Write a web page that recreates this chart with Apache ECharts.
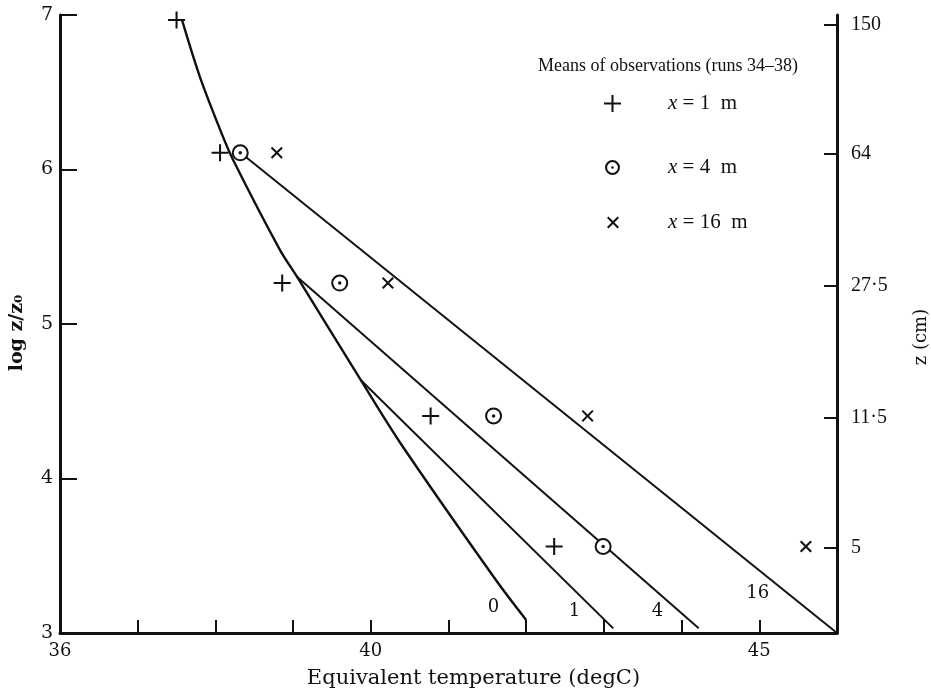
<!DOCTYPE html>
<html>
<head>
<meta charset="utf-8">
<script src="https://cdn.jsdelivr.net/npm/echarts@6/dist/echarts.min.js"></script>
<style>
html,body{margin:0;padding:0;background:#fff;}
#chart{width:931px;height:694px;}
</style>
</head>
<body>
<div id="chart"></div>
<script>
// ---- data ----
const xTickValues = [37, 38, 39, 40, 41, 42, 43, 44, 45];
const xLabelValues = [36, 40, 45];
const yTickValues = [4, 5, 6, 7];
const yLabelValues = [3, 4, 5, 6, 7];
const zLabels = ['150', '64', '27·5', '11·5', '5'];
const zLogPos = [6.935, 6.10, 5.248, 4.39, 3.552];

const obsLogZ = [6.968, 6.108, 5.265, 4.405, 3.56];
const temp1m = [37.50, 38.06, 38.86, 40.77, 42.36];
const temp4m = [null, 38.32, 39.60, 41.58, 42.99];
const temp16m = [null, 38.79, 40.22, 42.79, 45.60];

const curve0X = [37.57, 37.80, 38.08, 38.23, 38.83, 39.05, 39.87, 40.38, 41.61, 42.00];
const curve0Y = [6.968, 6.60, 6.234, 6.06, 5.48, 5.306, 4.638, 4.23, 3.343, 3.084];
const line1X = [39.87, 43.12];
const line1Y = [4.638, 3.03];
const line4X = [39.05, 44.22];
const line4Y = [5.306, 3.03];
const line16X = [38.32, 46.0];
const line16Y = [6.11, 3.0];

const curveNames = ['0', '1', '4', '16'];
const curveLabelX = [41.58, 42.62, 43.69, 44.98];
const curveLabelY = [3.166, 3.138, 3.138, 3.257];

const legendNames = ['x = 1 m', 'x = 4 m', 'x = 16 m'];

// ---- helpers ----
const zip = (xs, ys) => xs.map((x, i) => (x == null ? null : [x, ys[i]])).filter(p => p);

const PLUS = 'path://M0,4.4H10V5.6H0ZM4.4,0H5.6V10H4.4Z';
const CROSS = 'path://M0,1.2L1.2,0L5,3.8L8.8,0L10,1.2L6.2,5L10,8.8L8.8,10L5,6.2L1.2,10L0,8.8L3.8,5Z';
const RING = 'path://M10,0A10,10,0,1,1,10,20A10,10,0,1,1,10,0ZM10,2.8A7.2,7.2,0,1,0,10,17.2A7.2,7.2,0,1,0,10,2.8ZM10,8.3A1.7,1.7,0,1,1,10,11.7A1.7,1.7,0,1,1,10,8.3Z';

const SERIF = '"DejaVu Serif", serif';
const TIMES = '"Liberation Serif", "Times New Roman", serif';
const INK = '#111';

const lineSeries = (name, data, width, smooth) => ({
  name, type: 'line', data, symbol: 'none', smooth: smooth || false,
  lineStyle: { color: INK, width }, z: 2, silent: true, animation: false
});

const legendText = {
  fontFamily: TIMES, fontSize: 21, color: INK,
  rich: {
    i: { fontFamily: TIMES, fontStyle: 'italic', fontSize: 21, color: INK },
    n: { fontFamily: TIMES, fontSize: 21, color: INK }
  }
};
const legendFmt = name => {
  const m = name.match(/^x = (\S+) m$/);
  return '{i|x}{n| = ' + m[1] + '  m}';
};

const chart = echarts.init(document.getElementById('chart'), null, { renderer: 'canvas' });

const option = {
  backgroundColor: '#fff',
  animation: false,
  title: {
    text: 'Means of observations (runs 34–38)',
    right: 128, top: 52,
    textStyle: { fontFamily: TIMES, fontSize: 18, fontWeight: 'normal', color: INK }
  },
  legend: [
    {
      data: [{ name: legendNames[0], icon: PLUS, itemStyle: { color: INK } }],
      left: 599, top: 88, itemWidth: 17, itemHeight: 17, selectedMode: false,
      formatter: legendFmt, textStyle: Object.assign({ padding: [0, 0, 0, 42] }, legendText)
    },
    {
      data: [{ name: legendNames[1], icon: RING, itemStyle: { color: INK, borderWidth: 0 } }],
      left: 600, top: 152, itemWidth: 15, itemHeight: 15, selectedMode: false,
      formatter: legendFmt, textStyle: Object.assign({ padding: [0, 0, 0, 43] }, legendText)
    },
    {
      data: [{ name: legendNames[2], icon: CROSS, itemStyle: { color: INK } }],
      left: 602, top: 207, itemWidth: 12, itemHeight: 12, selectedMode: false,
      formatter: legendFmt, textStyle: Object.assign({ padding: [0, 0, 0, 44] }, legendText)
    }
  ],
  grid: { left: 60, right: 94, top: 15, bottom: 61, containLabel: false, outerBoundsMode: 'none' },
  xAxis: {
    type: 'value', min: 36, max: 46,
    name: 'Equivalent temperature (degC)', nameLocation: 'middle', nameGap: 35,
    nameTextStyle: { fontFamily: SERIF, fontSize: 21, color: INK, padding: [0, 0, 0, 50] },
    axisLine: { show: true, onZero: false, lineStyle: { color: INK, width: 3 } },
    axisTick: { show: true, inside: true, length: 13, customValues: xTickValues, lineStyle: { color: INK, width: 2 } },
    axisLabel: { customValues: xLabelValues, margin: 9, fontFamily: SERIF, fontSize: 18, color: INK },
    splitLine: { show: false }
  },
  yAxis: [
    {
      type: 'value', min: 3, max: 7, position: 'left',
      name: 'log z/z₀', nameLocation: 'middle', nameGap: 33, nameRotate: 90,
      nameTextStyle: {
        fontFamily: SERIF, fontSize: 19, fontWeight: 'bold', color: INK, padding: [0, 18, 0, 0]
      },
      axisLine: { show: true, onZero: false, lineStyle: { color: INK, width: 3 } },
      axisTick: { show: true, inside: true, length: 17, customValues: yTickValues, lineStyle: { color: INK, width: 2 } },
      axisLabel: { customValues: yLabelValues, margin: 7, fontFamily: SERIF, fontSize: 19, color: INK },
      splitLine: { show: false }
    },
    {
      type: 'value', min: 3, max: 7, position: 'right',
      name: 'z (cm)', nameLocation: 'middle', nameGap: 75, nameRotate: 90,
      nameTextStyle: { fontFamily: SERIF, fontSize: 18, color: INK, padding: [0, 26, 0, 0] },
      axisLine: { show: true, onZero: false, lineStyle: { color: INK, width: 3 } },
      axisTick: { show: true, inside: true, length: 13, customValues: zLogPos, lineStyle: { color: INK, width: 2 } },
      axisLabel: {
        customValues: zLogPos, margin: 14, fontFamily: TIMES, fontSize: 20, color: INK,
        formatter: v => {
          let best = 0;
          zLogPos.forEach((p, i) => { if (Math.abs(p - v) < Math.abs(zLogPos[best] - v)) best = i; });
          return zLabels[best];
        }
      },
      splitLine: { show: false }
    }
  ],
  series: [
    lineSeries('curve 0', zip(curve0X, curve0Y), 2.4, 0.3),
    lineSeries('curve 1', zip(line1X, line1Y), 2),
    lineSeries('curve 4', zip(line4X, line4Y), 2),
    lineSeries('curve 16', zip(line16X, line16Y), 2),
    {
      name: legendNames[0], type: 'scatter', data: zip(temp1m, obsLogZ),
      symbol: PLUS, symbolSize: 17, itemStyle: { color: INK, opacity: 1 }, z: 5, silent: true
    },
    {
      name: legendNames[1], type: 'scatter', data: zip(temp4m, obsLogZ),
      symbol: 'circle', symbolSize: 15,
      itemStyle: { color: '#fff', borderColor: INK, borderWidth: 2, opacity: 1 }, z: 5, silent: true
    },
    {
      name: 'x = 4 m centre', type: 'scatter', data: zip(temp4m, obsLogZ),
      symbol: 'circle', symbolSize: 3.5, itemStyle: { color: INK, opacity: 1 }, z: 6, silent: true
    },
    {
      name: legendNames[2], type: 'scatter', data: zip(temp16m, obsLogZ),
      symbol: CROSS, symbolSize: 12, itemStyle: { color: INK, opacity: 1 }, z: 5, silent: true
    },
    {
      name: 'curve labels', type: 'scatter',
      data: curveNames.map((n, i) => ({ name: n, value: [curveLabelX[i], curveLabelY[i]] })),
      symbol: 'circle', symbolSize: 1, itemStyle: { color: 'rgba(0,0,0,0)', opacity: 1 }, z: 7, silent: true,
      label: { show: true, position: 'inside', formatter: '{b}', fontFamily: SERIF, fontSize: 18, color: INK, opacity: 1 }
    }
  ]
};

chart.setOption(option);
</script>
</body>
</html>
